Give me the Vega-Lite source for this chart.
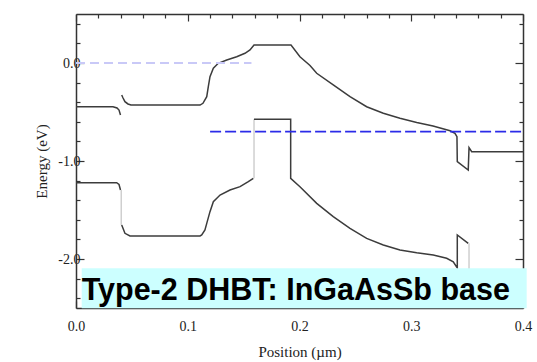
{
  "$schema": "https://vega.github.io/schema/vega-lite/v6.json",
  "width": 447,
  "height": 294,
  "autosize": {"type": "none"},
  "padding": {"left": 76, "top": 14, "right": 14, "bottom": 54},
  "background": "white",
  "config": {
    "view": {"stroke": null},
    "axis": {
      "grid": false,
      "domainColor": "#333333",
      "domainWidth": 1.5,
      "tickColor": "#333333",
      "tickWidth": 1.2,
      "labelFont": "Liberation Serif",
      "labelFontSize": 14,
      "labelColor": "#222222",
      "titleFont": "Liberation Serif",
      "titleFontSize": 15,
      "titleFontWeight": "normal",
      "titleColor": "#222222",
      "labelOverlap": false,
      "labelFlush": false
    }
  },
  "datasets": {
    "bands": [
      {"i": 1, "seg": "CB1", "tone": "band", "x": 0, "y": -0.446},
      {"i": 2, "seg": "CB1", "tone": "band", "x": 0.0331, "y": -0.446},
      {"i": 3, "seg": "CB1", "tone": "band", "x": 0.0367, "y": -0.459},
      {"i": 4, "seg": "CB1", "tone": "band", "x": 0.0385, "y": -0.48},
      {"i": 5, "seg": "CB1", "tone": "band", "x": 0.0398, "y": -0.531},
      {"i": 6, "seg": "CB2", "tone": "band", "x": 0.0409, "y": -0.327},
      {"i": 7, "seg": "CB2", "tone": "band", "x": 0.0421, "y": -0.357},
      {"i": 8, "seg": "CB2", "tone": "band", "x": 0.0438, "y": -0.395},
      {"i": 9, "seg": "CB2", "tone": "band", "x": 0.0465, "y": -0.418},
      {"i": 10, "seg": "CB2", "tone": "band", "x": 0.0492, "y": -0.429},
      {"i": 11, "seg": "CB2", "tone": "band", "x": 0.111, "y": -0.429},
      {"i": 12, "seg": "CB2", "tone": "band", "x": 0.1136, "y": -0.411},
      {"i": 13, "seg": "CB2", "tone": "band", "x": 0.117, "y": -0.344},
      {"i": 14, "seg": "CB2", "tone": "band", "x": 0.1184, "y": -0.242},
      {"i": 15, "seg": "CB2", "tone": "band", "x": 0.1199, "y": -0.14},
      {"i": 16, "seg": "CB2", "tone": "band", "x": 0.1229, "y": -0.054},
      {"i": 17, "seg": "CB2", "tone": "band", "x": 0.1273, "y": -0.003},
      {"i": 18, "seg": "CB2", "tone": "band", "x": 0.1349, "y": 0.031},
      {"i": 19, "seg": "CB2", "tone": "band", "x": 0.1438, "y": 0.064},
      {"i": 20, "seg": "CB2", "tone": "band", "x": 0.1512, "y": 0.099},
      {"i": 21, "seg": "CB2", "tone": "band", "x": 0.1557, "y": 0.133},
      {"i": 22, "seg": "CB2", "tone": "band", "x": 0.1593, "y": 0.184},
      {"i": 23, "seg": "CB2", "tone": "band", "x": 0.1924, "y": 0.184},
      {"i": 24, "seg": "CB2", "tone": "band", "x": 0.2004, "y": 0.064},
      {"i": 25, "seg": "CB2", "tone": "band", "x": 0.2094, "y": -0.025},
      {"i": 26, "seg": "CB2", "tone": "band", "x": 0.2154, "y": -0.105},
      {"i": 27, "seg": "CB2", "tone": "band", "x": 0.2302, "y": -0.224},
      {"i": 28, "seg": "CB2", "tone": "band", "x": 0.2452, "y": -0.344},
      {"i": 29, "seg": "CB2", "tone": "band", "x": 0.2601, "y": -0.446},
      {"i": 30, "seg": "CB2", "tone": "band", "x": 0.275, "y": -0.513},
      {"i": 31, "seg": "CB2", "tone": "band", "x": 0.2899, "y": -0.564},
      {"i": 32, "seg": "CB2", "tone": "band", "x": 0.3049, "y": -0.607},
      {"i": 33, "seg": "CB2", "tone": "band", "x": 0.3195, "y": -0.643},
      {"i": 34, "seg": "CB2", "tone": "band", "x": 0.3347, "y": -0.691},
      {"i": 35, "seg": "CB2", "tone": "band", "x": 0.3391, "y": -0.717},
      {"i": 36, "seg": "CB2", "tone": "band", "x": 0.3409, "y": -0.752},
      {"i": 37, "seg": "CB2", "tone": "band", "x": 0.3412, "y": -1.007},
      {"i": 38, "seg": "CB2", "tone": "band", "x": 0.351, "y": -1.092},
      {"i": 39, "seg": "CB2", "tone": "band", "x": 0.3517, "y": -0.864},
      {"i": 40, "seg": "CB2", "tone": "band", "x": 0.3541, "y": -0.905},
      {"i": 41, "seg": "CB2", "tone": "band", "x": 0.4, "y": -0.905},
      {"i": 42, "seg": "VB1", "tone": "band", "x": 0, "y": -1.221},
      {"i": 43, "seg": "VB1", "tone": "band", "x": 0.0364, "y": -1.221},
      {"i": 44, "seg": "VB1", "tone": "band", "x": 0.0385, "y": -1.24},
      {"i": 45, "seg": "VB1", "tone": "band", "x": 0.0398, "y": -1.296},
      {"i": 46, "seg": "J1", "tone": "jump", "x": 0.0405, "y": -1.296},
      {"i": 47, "seg": "J1", "tone": "jump", "x": 0.0405, "y": -1.653},
      {"i": 48, "seg": "VB2", "tone": "band", "x": 0.0409, "y": -1.653},
      {"i": 49, "seg": "VB2", "tone": "band", "x": 0.0438, "y": -1.738},
      {"i": 50, "seg": "VB2", "tone": "band", "x": 0.0483, "y": -1.765},
      {"i": 51, "seg": "VB2", "tone": "band", "x": 0.111, "y": -1.765},
      {"i": 52, "seg": "VB2", "tone": "band", "x": 0.1125, "y": -1.755},
      {"i": 53, "seg": "VB2", "tone": "band", "x": 0.1154, "y": -1.704},
      {"i": 54, "seg": "VB2", "tone": "band", "x": 0.117, "y": -1.636},
      {"i": 55, "seg": "VB2", "tone": "band", "x": 0.1199, "y": -1.517},
      {"i": 56, "seg": "VB2", "tone": "band", "x": 0.1229, "y": -1.415},
      {"i": 57, "seg": "VB2", "tone": "band", "x": 0.1289, "y": -1.347},
      {"i": 58, "seg": "VB2", "tone": "band", "x": 0.1378, "y": -1.296},
      {"i": 59, "seg": "VB2", "tone": "band", "x": 0.1468, "y": -1.262},
      {"i": 60, "seg": "VB2", "tone": "band", "x": 0.1542, "y": -1.211},
      {"i": 61, "seg": "VB2", "tone": "band", "x": 0.1587, "y": -1.177},
      {"i": 62, "seg": "J2", "tone": "jump", "x": 0.1593, "y": -1.177},
      {"i": 63, "seg": "J2", "tone": "jump", "x": 0.1593, "y": -0.574},
      {"i": 64, "seg": "VB3", "tone": "band", "x": 0.1593, "y": -0.574},
      {"i": 65, "seg": "VB3", "tone": "band", "x": 0.1921, "y": -0.574},
      {"i": 66, "seg": "VB3", "tone": "band", "x": 0.1921, "y": -1.177},
      {"i": 67, "seg": "VB3", "tone": "band", "x": 0.2004, "y": -1.262},
      {"i": 68, "seg": "VB3", "tone": "band", "x": 0.2154, "y": -1.432},
      {"i": 69, "seg": "VB3", "tone": "band", "x": 0.2302, "y": -1.568},
      {"i": 70, "seg": "VB3", "tone": "band", "x": 0.2452, "y": -1.687},
      {"i": 71, "seg": "VB3", "tone": "band", "x": 0.2601, "y": -1.789},
      {"i": 72, "seg": "VB3", "tone": "band", "x": 0.275, "y": -1.857},
      {"i": 73, "seg": "VB3", "tone": "band", "x": 0.2899, "y": -1.908},
      {"i": 74, "seg": "VB3", "tone": "band", "x": 0.3049, "y": -1.937},
      {"i": 75, "seg": "VB3", "tone": "band", "x": 0.3197, "y": -1.959},
      {"i": 76, "seg": "VB3", "tone": "band", "x": 0.3317, "y": -1.993},
      {"i": 77, "seg": "VB3", "tone": "band", "x": 0.3376, "y": -2.028},
      {"i": 78, "seg": "VB3", "tone": "band", "x": 0.3412, "y": -2.092},
      {"i": 79, "seg": "VB3", "tone": "band", "x": 0.3412, "y": -1.755},
      {"i": 80, "seg": "VB3", "tone": "band", "x": 0.351, "y": -1.84},
      {"i": 81, "seg": "J3", "tone": "jump", "x": 0.3517, "y": -1.84},
      {"i": 82, "seg": "J3", "tone": "jump", "x": 0.3517, "y": -2.245},
      {"i": 83, "seg": "VB4", "tone": "band", "x": 0.3517, "y": -2.245},
      {"i": 84, "seg": "VB4", "tone": "band", "x": 0.4, "y": -2.245}
    ],
    "fermi": [
      {"level": "EF base", "x": 0, "y": 0},
      {"level": "EF base", "x": 0.157, "y": 0},
      {"level": "EF collector", "x": 0.12, "y": -0.7},
      {"level": "EF collector", "x": 0.4, "y": -0.7}
    ],
    "note": [
      {"label": "Type-2 DHBT: InGaAsSb base", "x": 0.0051, "x2": 0.4033, "y": -2.418, "top": -2.095, "bottom": -2.503}
    ]
  },
  "layer": [
    {
      "data": {"name": "bands"},
      "mark": {"type": "line", "strokeWidth": 1.5, "strokeCap": "butt", "strokeJoin": "miter"},
      "encoding": {
        "x": {
          "field": "x", "type": "quantitative",
          "scale": {"domain": [0, 0.4], "nice": false, "zero": false},
          "axis": {
            "orient": "bottom",
            "title": "Position (µm)",
            "values": [0, 0.02, 0.04, 0.06, 0.08, 0.1, 0.12, 0.14, 0.16, 0.18, 0.2, 0.22, 0.24, 0.26, 0.28, 0.3, 0.32, 0.34, 0.36, 0.38, 0.4],
            "labelExpr": "abs(datum.value * 10 - round(datum.value * 10)) < 0.001 ? format(datum.value, '.1f') : ''",
            "tickSize": {"condition": {"test": "abs(datum.value * 10 - round(datum.value * 10)) < 0.001", "value": -7}, "value": -4},
            "labelPadding": 18,
            "titlePadding": 8
          }
        },
        "y": {
          "field": "y", "type": "quantitative",
          "scale": {"domain": [-2.5, 0.5], "nice": false, "zero": false},
          "axis": {
            "orient": "left",
            "title": "Energy (eV)",
            "values": [-2.4, -2.2, -2, -1.8, -1.6, -1.4, -1.2, -1, -0.8, -0.6, -0.4, -0.2, 0, 0.2, 0.4],
            "labelExpr": "abs(datum.value - round(datum.value)) < 0.001 ? replace(format(datum.value, '.1f'), '\u2212', '-') : ''",
            "tickSize": {"condition": {"test": "abs(datum.value - round(datum.value)) < 0.001", "value": -8}, "value": -4},
            "labelPadding": 4,
            "titlePadding": 8
          }
        },
        "detail": {"field": "seg"},
        "order": {"field": "i", "type": "quantitative"},
        "color": {
          "field": "tone", "type": "nominal", "legend": null,
          "scale": {"domain": ["band", "jump"], "range": ["#3c3c3c", "#cfcfcf"]}
        }
      }
    },
    {
      "data": {"name": "fermi"},
      "mark": {"type": "line", "strokeWidth": 1.8, "strokeCap": "butt"},
      "encoding": {
        "x": {
          "field": "x", "type": "quantitative",
          "scale": {"domain": [0, 0.4], "nice": false, "zero": false},
          "axis": {
            "orient": "top", "title": null, "labels": false,
            "values": [0, 0.02, 0.04, 0.06, 0.08, 0.1, 0.12, 0.14, 0.16, 0.18, 0.2, 0.22, 0.24, 0.26, 0.28, 0.3, 0.32, 0.34, 0.36, 0.38, 0.4],
            "tickSize": {"condition": {"test": "abs(datum.value * 10 - round(datum.value * 10)) < 0.001", "value": -7}, "value": -4}
          }
        },
        "y": {
          "field": "y", "type": "quantitative",
          "scale": {"domain": [-2.5, 0.5], "nice": false, "zero": false},
          "axis": {
            "orient": "right", "title": null, "labels": false,
            "values": [-2.4, -2.2, -2, -1.8, -1.6, -1.4, -1.2, -1, -0.8, -0.6, -0.4, -0.2, 0, 0.2, 0.4],
            "tickSize": {"condition": {"test": "abs(datum.value - round(datum.value)) < 0.001", "value": -8}, "value": -4}
          }
        },
        "detail": {"field": "level"},
        "color": {
          "field": "level", "type": "nominal", "legend": null,
          "scale": {"domain": ["EF base", "EF collector"], "range": ["#c9c9f7", "#2b2be8"]}
        },
        "strokeDash": {
          "field": "level", "type": "nominal", "legend": null,
          "scale": {"domain": ["EF base", "EF collector"], "range": [[9, 5], [11, 4]]}
        }
      }
    },
    {
      "data": {"name": "note"},
      "mark": {"type": "rect", "color": "#ccffff"},
      "encoding": {
        "x": {"field": "x", "type": "quantitative", "axis": null},
        "x2": {"field": "x2"},
        "y": {"field": "top", "type": "quantitative", "axis": null},
        "y2": {"field": "bottom"}
      }
    },
    {
      "data": {"name": "note"},
      "mark": {"type": "text", "align": "left", "baseline": "alphabetic", "font": "Liberation Sans", "fontWeight": "bold", "fontSize": 30.5, "color": "#000000"},
      "encoding": {
        "x": {"field": "x", "type": "quantitative", "axis": null},
        "y": {"field": "y", "type": "quantitative", "axis": null},
        "text": {"field": "label"}
      }
    }
  ],
  "resolve": {
    "axis": {"x": "independent", "y": "independent"},
    "scale": {"color": "independent", "strokeDash": "independent"}
  }
}
